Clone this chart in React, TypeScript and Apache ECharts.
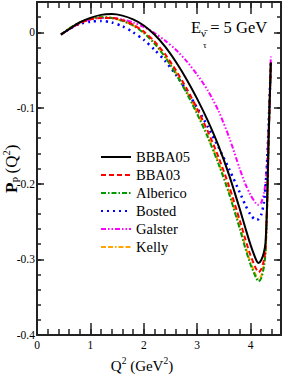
import React, { useEffect, useRef } from "react";
import * as echarts from "echarts";

const q2 = [0.45, 0.6, 0.8, 1.0, 1.2, 1.4, 1.6, 1.8, 2.0, 2.2, 2.4, 2.6, 2.8, 3.0, 3.2, 3.4, 3.6, 3.8, 3.9, 4.0, 4.1, 4.15, 4.2, 4.25, 4.28, 4.31, 4.34, 4.38];

const bbba05 = [-0.003, 0.004, 0.013, 0.019, 0.023, 0.024, 0.022, 0.017, 0.009, -0.003, -0.019, -0.039, -0.062, -0.088, -0.117, -0.150, -0.189, -0.234, -0.258, -0.281, -0.300, -0.305, -0.301, -0.291, -0.278, -0.225, -0.135, -0.040];
const bba03 = [-0.003, 0.004, 0.012, 0.017, 0.019, 0.019, 0.016, 0.010, 0.001, -0.012, -0.029, -0.050, -0.074, -0.101, -0.131, -0.165, -0.204, -0.249, -0.273, -0.295, -0.312, -0.317, -0.313, -0.301, -0.286, -0.228, -0.137, -0.040];
const alberico = [-0.003, 0.005, 0.013, 0.018, 0.020, 0.019, 0.015, 0.009, -0.001, -0.015, -0.033, -0.055, -0.080, -0.108, -0.139, -0.174, -0.214, -0.260, -0.285, -0.307, -0.324, -0.329, -0.325, -0.310, -0.292, -0.230, -0.138, -0.040];
const bosted = [-0.003, 0.004, 0.011, 0.014, 0.015, 0.013, 0.008, 0.000, -0.010, -0.023, -0.038, -0.056, -0.077, -0.100, -0.125, -0.152, -0.181, -0.212, -0.228, -0.241, -0.248, -0.247, -0.241, -0.225, -0.205, -0.170, -0.120, -0.040];
const galster = [-0.003, 0.004, 0.012, 0.017, 0.019, 0.019, 0.017, 0.013, 0.007, -0.001, -0.011, -0.023, -0.038, -0.056, -0.077, -0.104, -0.139, -0.181, -0.200, -0.215, -0.226, -0.228, -0.225, -0.213, -0.198, -0.172, -0.125, -0.032];
const kelly = [-0.003, 0.005, 0.013, 0.018, 0.020, 0.019, 0.015, 0.009, 0.000, -0.014, -0.032, -0.053, -0.078, -0.106, -0.137, -0.172, -0.212, -0.257, -0.282, -0.304, -0.321, -0.326, -0.322, -0.307, -0.290, -0.229, -0.137, -0.040];

const seriesNames = ["BBBA05", "BBA03", "Alberico", "Bosted", "Galster", "Kelly"];

const FONT = "Liberation Serif";
const FRAME = "#222";

export default function App() {
  const ref = useRef<HTMLDivElement>(null);
  useEffect(() => {
    document.body.style.margin = "0";
    const chart = echarts.init(ref.current!, null, { renderer: "svg" });
    const grid = { left: 37, right: 3, top: 2, bottom: 47 };
    const xMin = 0, xMax = 4.57, yMin = -0.4, yMax = 0.04;

    const majorX = (pos: string, labels: boolean) => ({
      type: "value", gridIndex: 0, position: pos, min: xMin, max: xMax, interval: 1,
      axisLine: { show: true, onZero: false, lineStyle: { color: FRAME, width: 2 } },
      axisTick: { show: true, inside: true, length: 12, lineStyle: { color: FRAME, width: 1.5 } },
      axisLabel: {
        show: labels, margin: 4, color: "#000", fontFamily: FONT, fontSize: 11.5,
        formatter: (v: number) => (Math.abs(v - Math.round(v)) < 1e-6 ? String(Math.round(v)) : ""),
      },
      splitLine: { show: false },
    });
    const minorX = (pos: string) => ({
      type: "value", gridIndex: 1, position: pos, min: xMin, max: xMax, interval: 0.2,
      axisLine: { show: false, onZero: false },
      axisTick: { show: true, inside: true, length: 6, lineStyle: { color: FRAME, width: 1.5 } },
      axisLabel: { show: false },
      splitLine: { show: false },
    });
    const majorY = (pos: string, labels: boolean) => ({
      type: "value", gridIndex: 0, position: pos, min: yMin, max: yMax, interval: 0.1,
      axisLine: { show: true, onZero: false, lineStyle: { color: FRAME, width: 2 } },
      axisTick: { show: true, inside: true, length: 7, lineStyle: { color: FRAME, width: 1.5 } },
      axisLabel: {
        show: labels, margin: 2, color: "#000", fontFamily: FONT, fontSize: 11.5,
        formatter: (v: number) => (Math.abs(v - yMax) < 1e-6 ? "" : String(Math.round(v * 10) / 10)),
      },
      splitLine: { show: false },
    });
    const minorY = (pos: string) => ({
      type: "value", gridIndex: 1, position: pos, min: yMin, max: yMax, interval: 0.02,
      axisLine: { show: false, onZero: false },
      axisTick: { show: true, inside: true, length: 4, lineStyle: { color: FRAME, width: 1.5 } },
      axisLabel: { show: false },
      splitLine: { show: false },
    });

    const styles: any[] = [
      { color: "#000000", type: "solid", width: 2 },
      { color: "#ff0000", type: [5, 3], width: 2 },
      { color: "#009900", type: [5, 2, 1.5, 2], width: 2 },
      { color: "#0000ff", type: [2, 4], width: 2.5 },
      { color: "#ff00ff", type: [5, 2, 1.5, 2, 1.5, 2], width: 2 },
      { color: "#ffa500", type: [5, 2, 5, 2, 1.5, 2], width: 2 },
    ];
    const values = [bbba05, bba03, alberico, bosted, galster, kelly];
    const lineSeries = seriesNames.map((name, i) => ({
      name, type: "line", xAxisIndex: 0, yAxisIndex: 0,
      data: q2.map((x, j) => [x, values[i][j]]),
      showSymbol: false, symbol: "none", smooth: 0.25,
      lineStyle: styles[i], itemStyle: { color: styles[i].color },
      z: 10 - i,
    }));

    chart.setOption({
      animation: false,
      grid: [grid, grid],
      xAxis: [majorX("bottom", true), majorX("top", false), minorX("bottom"), minorX("top")],
      yAxis: [majorY("left", true), majorY("right", false), minorY("left"), minorY("right")],
      legend: {
        orient: "vertical", left: 100, top: 148, padding: 0, itemGap: 0,
        itemWidth: 30, itemHeight: 12, data: seriesNames,
        itemStyle: { color: "rgba(0,0,0,0)", borderWidth: 0, opacity: 0 },
        textStyle: { fontFamily: FONT, fontSize: 14.5, color: "#000", lineHeight: 18 },
      },
      series: [
        ...lineSeries,
        { type: "line", xAxisIndex: 2, yAxisIndex: 2, data: [], silent: true },
      ],
      graphic: [
        {
          type: "text", left: 191, top: 19, z: 100,
          style: {
            text: "{n|E}{sub|ν̄}{n| = 5 GeV}",
            fill: "#000",
            rich: {
              n: { fontFamily: FONT, fontSize: 16.5, lineHeight: 22 },
              sub: { fontFamily: FONT, fontSize: 11, lineHeight: 12, verticalAlign: "bottom" },
            },
          },
        },
        {
          type: "text", left: 203, top: 40, z: 100,
          style: { text: "τ", fill: "#000", fontFamily: FONT, fontSize: 9 },
        },
        {
          type: "text", left: "center", top: 356, z: 100,
          style: {
            text: "{n|Q}{sup|2}{n| (GeV}{sup|2}{n|)}",
            fill: "#000",
            rich: {
              n: { fontFamily: FONT, fontSize: 15, lineHeight: 20 },
              sup: { fontFamily: FONT, fontSize: 9.5, lineHeight: 10, verticalAlign: "top" },
            },
          },
        },
        {
          type: "text", x: 1, y: 193, rotation: Math.PI / 2, z: 100,
          style: {
            text: "{b|P}{sub|P} {n|(Q}{sup|2}{n|)}",
            fill: "#000",
            rich: {
              b: { fontFamily: FONT, fontSize: 17, fontWeight: "bold", lineHeight: 21 },
              n: { fontFamily: FONT, fontSize: 17, lineHeight: 21 },
              sub: { fontFamily: FONT, fontSize: 10.5, lineHeight: 11, verticalAlign: "bottom" },
              sup: { fontFamily: FONT, fontSize: 10.5, lineHeight: 11, verticalAlign: "top" },
            },
          },
        },
      ],
    });
    return () => chart.dispose();
  }, []);
  return <div ref={ref} style={{ width: 284, height: 382 }} />;
}
